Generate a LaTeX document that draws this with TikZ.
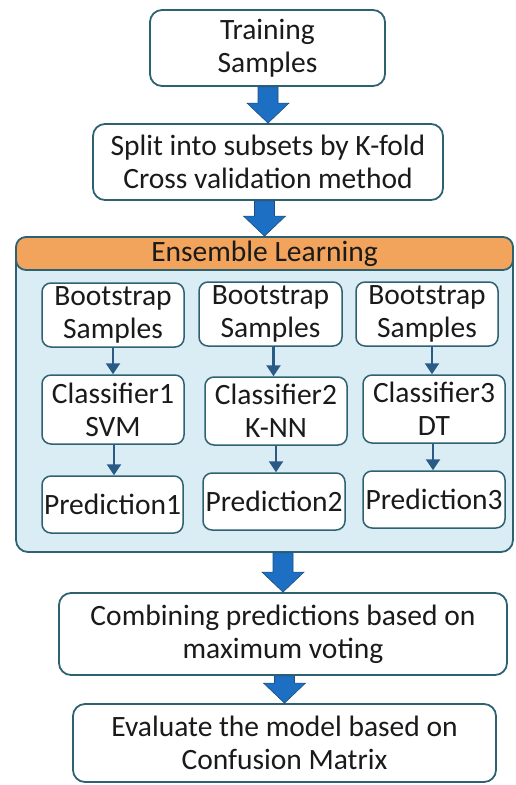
\documentclass[tikz,border=0pt]{standalone}
\usepackage{fontspec}
\setmainfont{Carlito}
\usetikzlibrary{calc,arrows.meta}
\definecolor{boxc}{HTML}{2E6272}
\definecolor{orangec}{HTML}{F2A35C}
\definecolor{lightb}{HTML}{DAEDF4}
\definecolor{arrf}{HTML}{1C6FC2}
\definecolor{arrd}{HTML}{1F4E79}
\definecolor{smallarr}{HTML}{2A5A86}
\definecolor{txt}{HTML}{1A1A1A}
\tikzset{
  flowbox/.style={draw=boxc, line width=1.8pt, rounded corners=12pt, fill=white,
    align=center, inner sep=0pt, text=txt, font=\fontsize{29.5}{33}\selectfont},
  innerbox/.style={draw=boxc, line width=1.5pt, rounded corners=9pt, fill=white,
    align=center, inner sep=0pt, text=txt, font=\fontsize{29.5}{33}\selectfont,
    minimum width=142pt},
  smallarrow/.style={draw=smallarr, line width=2.4pt, -{Triangle[length=11pt,width=14pt]}},
  fatarrow/.style={fill=arrf, draw=arrd, line width=0.6pt}
}
\newcommand\fatarr[2]{%
  \path[fatarrow] ($(#2.north |- #1.south)+(-10,0)$) -- ($(#2.north |- #1.south)+(10,0)$)
    -- ($(#2.north)+(10,-20)$) -- ($(#2.north)+(21,-20)$) -- (#2.north)
    -- ($(#2.north)+(-21,-20)$) -- ($(#2.north)+(-10,-20)$) -- cycle;}
\begin{document}
\begin{tikzpicture}[x=1pt,y=-1pt]
\useasboundingbox (0,0) rectangle (515,785);
% top boxes
\node[flowbox, minimum width=235pt, minimum height=76pt] (train) at (267.5,48) {Training\\Samples};
\node[flowbox, minimum width=350pt, minimum height=76pt] (split) at (268,162) {Split into subsets by K-fold\\Cross validation method};
% ensemble container
\node[draw=boxc, line width=1.8pt, rounded corners=12pt, fill=lightb, minimum width=497pt, minimum height=315pt, inner sep=0pt] (ens) at (264.5,394.5) {};
\node[draw=boxc, line width=1.8pt, rounded corners=10pt, fill=orangec, minimum width=497pt, minimum height=33pt, inner sep=0pt, text=txt, font=\fontsize{29.5}{33}\selectfont] (head) at (264.5,253.5) {Ensemble Learning};
% column 1
\node[innerbox, minimum height=64pt] (b1) at (113,315) {Bootstrap\\Samples};
\node[innerbox, minimum height=69pt] (c1) at (113,409.5) {Classifier1\\SVM};
\node[innerbox, minimum height=57pt, minimum width=141pt] (p1) at (112.5,504.5) {Prediction1};
% column 2
\node[innerbox, minimum height=64pt, minimum width=143pt] (b2) at (270.5,314) {Bootstrap\\Samples};
\node[innerbox, minimum height=68pt] (c2) at (276,411) {Classifier2\\K-NN};
\node[innerbox, minimum height=57pt] (p2) at (274,501.5) {Prediction2};
% column 3
\node[innerbox, minimum height=64pt] (b3) at (427,314) {Bootstrap\\Samples};
\node[innerbox, minimum height=68pt] (c3) at (434,409) {Classifier3\\DT};
\node[innerbox, minimum height=57pt] (p3) at (434,499.5) {Prediction3};
% small arrows
\draw[smallarrow] ($(b1.south)+(0,0)$) -- (b1.south |- c1.north);
\draw[smallarrow] ($(c1.south)+(1,0)$) -- ($(c1.south |- p1.north)+(1,0)$);
\draw[smallarrow] ($(b2.south)+(3,0)$) -- ($(b2.south |- c2.north)+(3,0)$);
\draw[smallarrow] (c2.south) -- (c2.south |- p2.north);
\draw[smallarrow] ($(b3.south)+(5,0)$) -- ($(b3.south |- c3.north)+(5,0)$);
\draw[smallarrow] ($(c3.south)+(-1,0)$) -- ($(c3.south |- p3.north)+(-1,0)$);
% bottom boxes
\node[flowbox, minimum width=448pt, minimum height=82pt] (comb) at (283,634) {Combining predictions based on\\maximum voting};
\node[flowbox, minimum width=423pt, minimum height=78pt] (eval) at (284.5,743) {Evaluate the model based on\\Confusion Matrix};
% fat arrows
\fatarr{train}{split}
\fatarr{split}{head}
\fatarr{ens}{comb}
\fatarr{comb}{eval}
\end{tikzpicture}
\end{document}
